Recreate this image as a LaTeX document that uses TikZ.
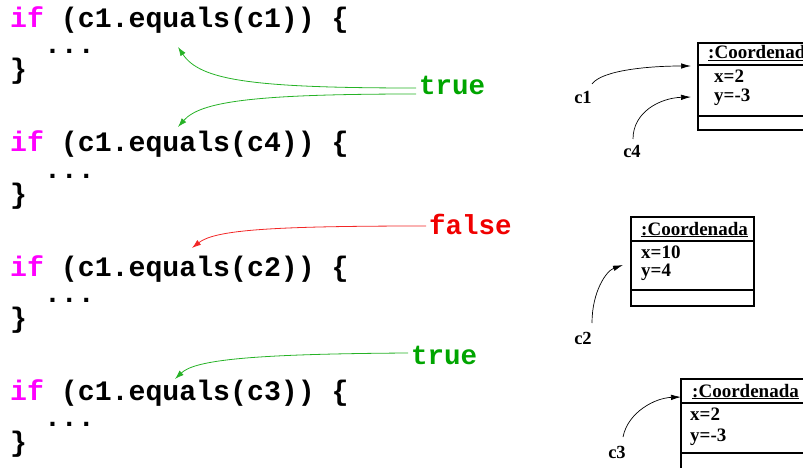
\documentclass[tikz,border=0pt]{standalone}
\usepackage{fontspec}
\setmainfont{Liberation Serif}
\newfontfamily\codefont{Liberation Mono}
\usetikzlibrary{arrows.meta}
\definecolor{kwmag}{RGB}{255,0,255}
\definecolor{truegreen}{RGB}{0,165,0}
\definecolor{falsered}{RGB}{240,0,0}
\tikzset{
  code/.style={anchor=base west, inner sep=0pt, font=\codefont\bfseries\fontsize{28.2}{30}\selectfont},
  verdict/.style={anchor=base west, inner sep=0pt, font=\codefont\bfseries\fontsize{27.5}{30}\selectfont},
  objtxt/.style={anchor=base west, inner sep=0pt, font=\bfseries\fontsize{19}{21}\selectfont},
  ref/.style={inner sep=0pt, font=\bfseries\fontsize{18.5}{20}\selectfont},
  objbox/.style={draw, line width=1.2pt},
  greenarrow/.style={truegreen!85, line width=0.8pt, -{Latex[length=9pt,width=6pt]}},
  redarrow/.style={falsered!85, line width=0.8pt, -{Latex[length=9pt,width=6pt]}},
  refarrow/.style={black, line width=0.7pt, -{Latex[length=10pt,width=5.5pt]}},
}
\begin{document}
\begin{tikzpicture}[x=1pt, y=-1pt]
\useasboundingbox (0,0) rectangle (803,468);
\clip (0,0) rectangle (803,468);

% code blocks
\foreach \b/\y/\arg in {1/28/c1, 2/152/c4, 3/276/c2, 4/400/c3} {
  \node[code] (if\b) at (10,\y) {\textcolor{kwmag}{if} (c1.equals(\arg)) \{};
  \node[code] (dots\b) at (10,\y+26) {\ \ ...};
  \node[code] (close\b) at (10,\y+51) {\}};
}

% verdict labels
\node[verdict, text=truegreen] (t1) at (419,95) {true};
\node[verdict, text=falsered] (f2) at (429,234) {false};
\node[verdict, text=truegreen] (t3) at (411,364) {true};

\coordinate (e1) at (178,47);
\coordinate (e2) at (178,127);
\coordinate (e3) at (192,248);
\coordinate (e4) at (175,379);
\coordinate (s1) at (416,88);
\coordinate (s2) at (416,94);
\coordinate (s3) at (426,226);
\coordinate (s4) at (408,353);

\draw[greenarrow] (s1) .. controls (250,88) and (200,80) .. (e1);
\draw[greenarrow] (s2) .. controls (250,94) and (200,102) .. (e2);
\draw[redarrow] (s3) .. controls (270,226) and (215,230) .. (e3);
\draw[greenarrow] (s4) .. controls (250,354) and (195,360) .. (e4);

% object boxes
\draw[objbox] (698,43) rectangle (830,130);
\draw[objbox] (698,65) -- (830,65);
\draw[objbox] (698,116) -- (830,116);
\node[objtxt] (h1) at (708,59) {\underline{:Coordenada}};
\node[objtxt] (x1) at (714,83) {x=2};
\node[objtxt] (y1) at (714,102) {y=-3};

\draw[objbox] (631,217) rectangle (754,306);
\draw[objbox] (631,241) -- (754,241);
\draw[objbox] (631,290) -- (754,290);
\node[objtxt] (h2) at (641,235) {\underline{:Coordenada}};
\node[objtxt] (x2) at (641,258) {x=10};
\node[objtxt] (y2) at (641,276) {y=4};

\draw[objbox] (681,379) rectangle (830,490);
\draw[objbox] (681,403) -- (830,403);
\draw[objbox] (681,453) -- (830,453);
\node[objtxt] (h3) at (692,397) {\underline{:Coordenada}};
\node[objtxt] (x3) at (690,420) {x=2};
\node[objtxt] (y3) at (690,441) {y=-3};

% references
\node[ref] (c1) at (583,97) {c1};
\node[ref] (c4) at (632,151) {c4};
\node[ref] (c2) at (583,338) {c2};
\node[ref] (c3) at (617,452) {c3};

\coordinate (a1) at (691,66);
\coordinate (a4) at (691,97);
\coordinate (a2) at (623,265);
\coordinate (a3) at (681,397);

\draw[refarrow] (592,84) .. controls (602,70) and (650,66) .. (a1);
\draw[refarrow] (633,139) .. controls (633,112) and (660,98) .. (a4);
\draw[refarrow] (592,323) .. controls (592,292) and (606,271) .. (a2);
\draw[refarrow] (623,437) .. controls (628,412) and (655,398) .. (a3);
\end{tikzpicture}
\end{document}
